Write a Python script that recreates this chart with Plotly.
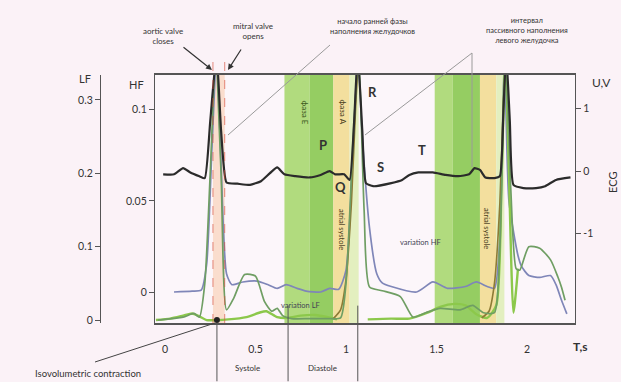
import plotly.graph_objects as go

# ---------------- data ----------------
# ECG, volts
t_ecg = [-0.01, 0.05, 0.10, 0.14, 0.19, 0.22, 0.25, 0.285, 0.31, 0.34, 0.40, 0.47, 0.53, 0.58,
         0.62, 0.66, 0.72, 0.80, 0.86, 0.91, 0.94, 0.99, 1.02, 1.045, 1.065, 1.09, 1.11, 1.15,
         1.25, 1.31, 1.35, 1.40, 1.48, 1.55, 1.62, 1.68, 1.71, 1.74, 1.77, 1.82, 1.85, 1.87,
         1.885, 1.905, 1.925, 1.98, 2.05, 2.10, 2.16, 2.24]
ecg = [-0.05, -0.05, 0.05, -0.02, -0.08, -0.11, 0.8, 1.9, 0.65, -0.18, -0.2, -0.22, -0.16, -0.03,
       0.06, -0.05, -0.08, -0.1, -0.06, 0.0, -0.05, -0.05, -0.14, 0.8, 1.9, 0.65, -0.19, -0.24,
       -0.19, -0.14, -0.06, -0.02, -0.02, -0.06, -0.08, -0.05, 0.05, 0.02, -0.1, -0.11, -0.08, 1.0,
       1.9, 0.8, -0.22, -0.27, -0.27, -0.24, -0.14, -0.1]

# variation HF
t_hf = [0.05, 0.15, 0.20, 0.23, 0.26, 0.285, 0.31, 0.34, 0.37, 0.43, 0.51, 0.57, 0.62, 0.67,
        0.73, 0.78, 0.86, 0.91, 0.96, 1.00, 1.04, 1.065, 1.09, 1.13, 1.17, 1.20, 1.25, 1.39,
        1.48, 1.56, 1.66, 1.72, 1.78, 1.82, 1.85, 1.875, 1.90, 1.95, 1.97, 2.01, 2.07, 2.13,
        2.16, 2.19, 2.22]
hf = [0.0, 0.0005, 0.001, 0.015, 0.08, 0.13, 0.07, 0.01, 0.004, 0.0055, 0.006, 0.004, 0.002, 0.004,
      0.002, 0.0005, 0.0, 0.002, 0.0015, 0.012, 0.08, 0.13, 0.085, 0.035, 0.01, 0.005, 0.003, 0.0,
      0.0055, 0.002, 0.003, 0.0055, 0.003, 0.002, 0.03, 0.13, 0.05, 0.02, 0.014, 0.009, 0.008, 0.009,
      0.004, -0.0044, -0.012]

# variation LF
t_lf = [-0.04, 0.10, 0.16, 0.19, 0.22, 0.25, 0.28, 0.31, 0.34, 0.38, 0.44, 0.50, 0.55, 0.59,
        0.62, 0.65, 0.70, 0.80, 0.90, 0.97, 1.00, 1.04, 1.07, 1.10, 1.13, 1.20, 1.30, 1.37,
        1.44, 1.52, 1.63, 1.70, 1.76, 1.82, 1.85, 1.88, 1.91, 1.94, 1.96, 2.01, 2.07, 2.13,
        2.17, 2.19, 2.21]
lf = [0.0, 0.004, 0.009, 0.004, 0.05, 0.2, 0.36, 0.2, 0.014, 0.03, 0.062, 0.06, 0.025, 0.012,
      0.016, 0.006, 0.002, 0.002, 0.002, 0.003, 0.05, 0.25, 0.36, 0.15, 0.045, 0.04, 0.032, 0.004,
      0.01, 0.016, 0.014, 0.02, 0.01, 0.01, 0.1, 0.36, 0.18, 0.07, 0.068, 0.1, 0.098, 0.082,
      0.059, 0.045, 0.027]

# light-green LF component
t_lf2 = [-0.05, 0.03, 0.10, 0.15, 0.19, 0.23, 0.35, 0.45, 0.52, 0.56, 0.62, 0.68, 0.75, 0.83,
         0.90, 0.95, None, 1.12, 1.25, 1.35, 1.45, 1.52, 1.60, 1.66, 1.72, 1.78, 1.83, 1.86,
         1.88, 1.90, 1.925, 1.95]
lf2 = [0.0, 0.002, 0.006, 0.009, 0.005, 0.0, 0.001, 0.004, 0.01, 0.012, 0.004, 0.003, 0.006, 0.007,
       0.004, 0.001, None, 0.001, 0.002, 0.002, 0.01, 0.018, 0.022, 0.02, 0.008, 0.003, 0.02, 0.2,
       0.36, 0.2, 0.01, 0.07]

# atrial-systole rise
t_atr = [0.93, 0.97, 1.00, 1.03, 1.055, 1.07, None, 1.75, 1.79, 1.82, 1.85, 1.87, 1.885]
atr = [0.002, 0.014, 0.055, 0.16, 0.3, 0.36, None, 0.003, 0.012, 0.05, 0.16, 0.3, 0.36]

x_ticks = [0, 0.5, 1, 1.5, 2]
x_ticktext = ["0", "0.5", "1", "1.5", "2"]
hf_ticks = [0, 0.05, 0.1]
hf_ticktext = ["0", "0.05", "0.1"]
lf_ticks = [0, 0.1, 0.2, 0.3]
lf_ticktext = ["0", "0.1", "0.2", "0.3"]
ecg_ticks = [-1, 0, 1]
ecg_ticktext = ["-1", "0", "1"]

# phase intervals (s)
iso_band = (0.265, 0.33)
green_a = [(0.66, 0.80), (1.49, 1.59)]
green_b = [(0.80, 0.93), (1.59, 1.74)]
yellow = [(0.93, 1.02), (1.74, 1.83)]
pale = [(1.02, 1.07), (1.83, 1.875)]
dividers = [0.287, 0.68, 1.065]

FONT = "Lato, 'Open Sans', sans-serif"
TXT = "#333333"
BG = "#fbf2f7"

fig = go.Figure()
fig.add_trace(go.Scatter(x=t_lf2, y=lf2, yaxis="y2", mode="lines",
                         line=dict(color="#8cc84b", width=2.4, shape="spline", smoothing=0.6),
                         hoverinfo="skip"))
fig.add_trace(go.Scatter(x=t_atr, y=atr, yaxis="y2", mode="lines",
                         line=dict(color="#8d7b35", width=1.6, shape="spline", smoothing=0.6),
                         hoverinfo="skip"))
fig.add_trace(go.Scatter(x=t_lf, y=lf, yaxis="y2", mode="lines",
                         line=dict(color="#6f9e63", width=1.7, shape="spline", smoothing=0.6),
                         hoverinfo="skip"))
fig.add_trace(go.Scatter(x=t_hf, y=hf, yaxis="y", mode="lines",
                         line=dict(color="#7f86b8", width=1.7, shape="spline", smoothing=0.6),
                         hoverinfo="skip"))
fig.add_trace(go.Scatter(x=t_ecg, y=ecg, yaxis="y3", mode="lines",
                         line=dict(color="#2b2b2b", width=2.2, shape="spline", smoothing=0.45),
                         hoverinfo="skip"))
fig.add_trace(go.Scatter(x=[dividers[0]], y=[0], yaxis="y2", mode="markers",
                         marker=dict(color="#222", size=6), cliponaxis=False, hoverinfo="skip"))

shapes = []
def band(x0, x1, color):
    shapes.append(dict(type="rect", xref="x", yref="paper", x0=x0, x1=x1, y0=0, y1=1,
                       fillcolor=color, line=dict(width=0), layer="below"))

band(iso_band[0], iso_band[1], "rgba(248,205,175,0.6)")
for a, b in green_a:
    band(a, b, "#b1db7e")
for a, b in green_b:
    band(a, b, "#95cd62")
for a, b in yellow:
    band(a, b, "#f3df9e")
for a, b in pale:
    band(a, b, "#e3efbf")

for xv in iso_band:
    shapes.append(dict(type="line", xref="x", yref="paper", x0=xv, x1=xv, y0=0, y1=1.07,
                       line=dict(color="rgba(215,80,60,0.65)", width=1, dash="dash")))

# phase dividers below the axis
for i, xv in enumerate(dividers):
    shapes.append(dict(type="line", xref="x", yref="paper", x0=xv, x1=xv,
                       y0=0.07 if i > 0 else 0, y1=-0.235,
                       line=dict(color="#555", width=1)))

# leader lines
def pline(px0, py0, px1, py1, color="#9a9a9a"):
    shapes.append(dict(type="line", xref="paper", yref="paper",
                       x0=(px0 - 60) / 515, y0=(323 - py0) / 248,
                       x1=(px1 - 60) / 515, y1=(323 - py1) / 248,
                       line=dict(color=color, width=1)))

pline(330, 45, 228, 135)
pline(472, 53, 472, 167)
pline(472, 53, 365, 135)
pline(95, 362, 215, 323, color="#444")

ann = []
def ptext(text, px, py, size=8, angle=0, bold=False, color=TXT, xanchor="center"):
    ann.append(dict(text=("<b>%s</b>" % text) if bold else text, xref="paper", yref="paper",
                    x=(px - 60) / 515, y=(323 - py) / 248, showarrow=False, textangle=angle,
                    xanchor=xanchor, yanchor="middle",
                    font=dict(size=size, color=color, family=FONT)))

def dtext(text, x, y, yref, size=8, angle=0, color=TXT, bold=False):
    ann.append(dict(text=("<b>%s</b>" % text) if bold else text, xref="x", yref=yref,
                    x=x, y=y, showarrow=False, textangle=angle,
                    font=dict(size=size, color=color, family=FONT)))

def arrow(hx, hy, tx, ty):
    ann.append(dict(text="", xref="paper", yref="paper",
                    x=(hx - 60) / 515, y=(323 - hy) / 248, ax=tx - hx, ay=ty - hy,
                    showarrow=True, arrowhead=2, arrowsize=1, arrowwidth=1.2, arrowcolor="#333"))

ptext("aortic valve<br>closes", 163, 36, size=8)
ptext("mitral valve<br>opens", 253, 31, size=8)
arrow(212, 70, 182, 46)
arrow(228, 70, 242, 48)
ptext("начало ранней фазы<br>наполнения желудочков", 372, 27, size=7.5)
ptext("интервал<br>пассивного наполнения<br>левого желудочка", 527, 30, size=7.5)

ptext("LF", 85, 78, size=11)
ptext("HF", 136, 84, size=11)
ptext("U,V", 601, 82, size=12)
ptext("ECG", 612, 183, size=11, angle=-90)
ptext("T,s", 580, 346, size=12, bold=True)
ptext("Isovolumetric contraction", 88, 373, size=9.5)
ptext("Systole", 247, 368, size=8)
ptext("Diastole", 322, 368, size=8)

dtext("P", 0.873, 0.42, "y3", size=13, bold=True)
dtext("Q", 0.972, -0.26, "y3", size=13, bold=True)
dtext("R", 1.144, 1.26, "y3", size=13, bold=True)
dtext("S", 1.188, 0.06, "y3", size=13, bold=True)
dtext("T", 1.42, 0.34, "y3", size=13, bold=True)
dtext("фаза E", 0.773, 0.94, "y3", size=8, angle=90, color="#3d5a20")
dtext("фаза A", 0.983, 0.94, "y3", size=8, angle=90, color="#4a4020")
dtext("atrial systole", 0.972, -0.94, "y3", size=7.5, angle=90, color="#4a4020")
dtext("atrial systole", 1.779, -0.91, "y3", size=7.5, angle=90, color="#4a4020")
dtext("variation HF", 1.409, 0.027, "y", size=7.5, color="#445")
dtext("variation LF", 0.746, 0.02, "y2", size=7.5, color="#445")

axis_common = dict(showgrid=False, zeroline=False, showline=True, linecolor="#555",
                   linewidth=1.3, ticks="outside", ticklen=5, tickcolor="#555",
                   tickfont=dict(size=10.5, color=TXT, family=FONT))

fig.update_layout(
    width=621, height=382,
    margin=dict(l=60, r=46, t=75, b=59),
    paper_bgcolor=BG, plot_bgcolor="#fcf6fa",
    showlegend=False,
    font=dict(family=FONT, size=10, color=TXT),
    xaxis=dict(domain=[0.1845, 1], range=[-0.055, 2.265], tickvals=x_ticks, ticktext=x_ticktext,
               showgrid=False, zeroline=False, showline=True, linecolor="#555", linewidth=1.6,
               mirror=True, ticks="", ticklabelstandoff=16,
               tickfont=dict(size=10.5, color=TXT, family=FONT)),
    yaxis=dict(range=[-0.017, 0.119], tickvals=hf_ticks, ticktext=hf_ticktext, **axis_common),
    yaxis2=dict(overlaying="y", anchor="free", position=0.0777, side="left",
                range=[-0.004, 0.334], tickvals=lf_ticks, ticktext=lf_ticktext, **axis_common),
    yaxis3=dict(overlaying="y", anchor="x", side="right", range=[-2.43, 1.54],
                tickvals=ecg_ticks, ticktext=ecg_ticktext, **axis_common),
    shapes=shapes,
    annotations=ann,
)

fig.write_html("out.html", config={"displayModeBar": False},
               post_script="document.body.style.margin='0';document.body.style.background='%s';" % BG)
